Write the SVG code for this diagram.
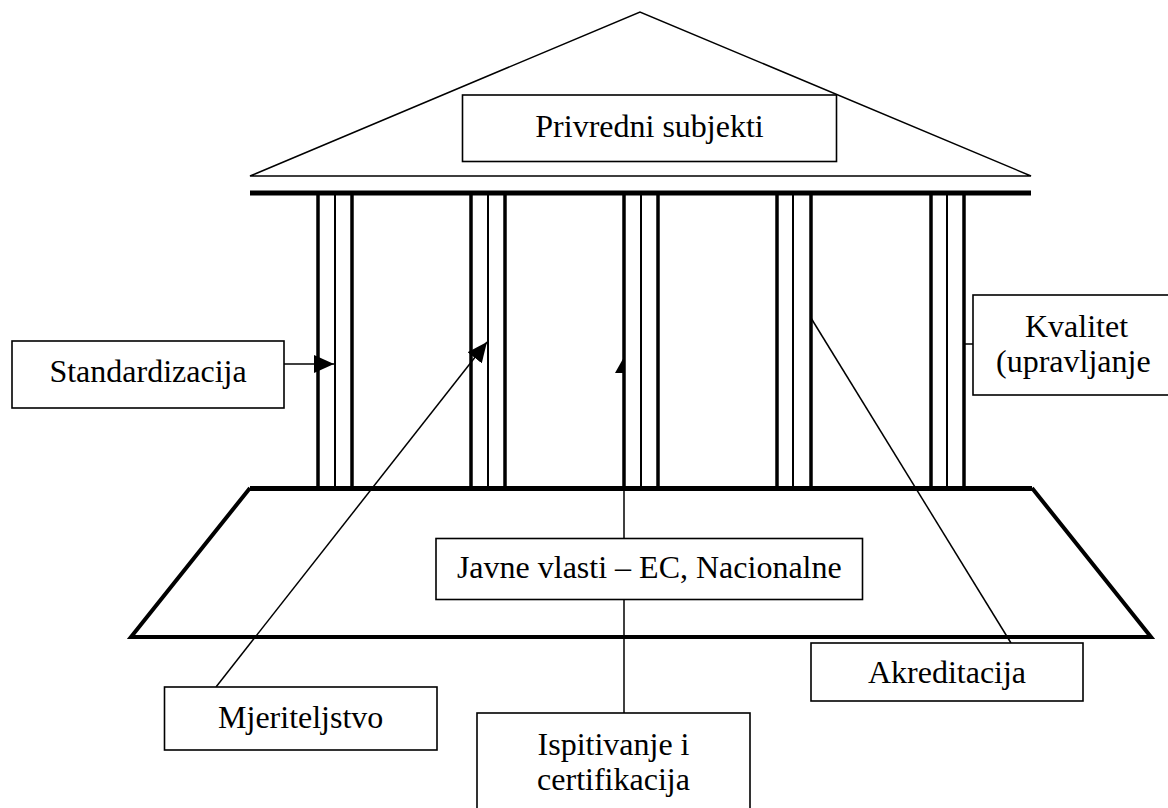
<svg xmlns="http://www.w3.org/2000/svg" width="1168" height="808" viewBox="0 0 1168 808">
<style>
.box{fill:#fff;stroke:#000;stroke-width:1.6}
.t{font-family:"Liberation Serif","Times New Roman",serif;font-size:32px;fill:#000}
.m{text-anchor:middle}
.thin{stroke:#000;stroke-width:1.5;fill:none}
.bar{stroke:#000;stroke-width:5;fill:none}
.pk{stroke:#000;stroke-width:3.5}
.pt{stroke:#000;stroke-width:2}
.base{stroke:#000;stroke-width:4;fill:none;stroke-linejoin:miter}
</style>
<defs>
<marker id="arr" markerUnits="userSpaceOnUse" markerWidth="20" markerHeight="18" refX="20" refY="9" orient="auto" viewBox="0 0 20 18">
<path d="M0,0 L20,9 L0,18 z" fill="#000"/>
</marker>
</defs>
<rect width="1168" height="808" fill="#fff"/>
<g id="building">
<polygon points="250,176 640,12 1031,176" class="thin"/>
<line x1="250" y1="193" x2="1031" y2="193" class="bar"/>
<g id="pillars">
<line x1="318" y1="193" x2="318" y2="488" class="pk"/><line x1="335" y1="193" x2="335" y2="488" class="pt"/><line x1="352" y1="193" x2="352" y2="488" class="pk"/>
<line x1="471" y1="193" x2="471" y2="488" class="pk"/><line x1="488" y1="193" x2="488" y2="488" class="pt"/><line x1="505" y1="193" x2="505" y2="488" class="pk"/>
<line x1="624" y1="193" x2="624" y2="488" class="pk"/><line x1="641" y1="193" x2="641" y2="488" class="pt"/><line x1="658" y1="193" x2="658" y2="488" class="pk"/>
<line x1="777" y1="193" x2="777" y2="488" class="pk"/><line x1="793" y1="193" x2="793" y2="488" class="pt"/><line x1="811" y1="193" x2="811" y2="488" class="pk"/>
<line x1="931" y1="193" x2="931" y2="488" class="pk"/><line x1="947" y1="193" x2="947" y2="488" class="pt"/><line x1="964" y1="193" x2="964" y2="488" class="pk"/>
</g>
<line x1="250" y1="488.5" x2="1032" y2="488.5" class="bar"/>
<polyline points="250,488 131,637 1151,637 1032,488" class="base"/>
</g>
<g id="connectors">
<line x1="284" y1="364" x2="334" y2="364" class="thin" marker-end="url(#arr)"/>
<line x1="216" y1="687" x2="487" y2="342" class="thin" marker-end="url(#arr)"/>
<line x1="624" y1="713" x2="624" y2="373" class="thin"/>
<polygon points="615,373 624,357 624,373" fill="#000"/>
<line x1="811" y1="318" x2="1011" y2="643" class="thin"/>
<line x1="964" y1="344" x2="973" y2="344" class="thin"/>
</g>
<g id="privredni-subjekti">
<rect x="462.5" y="95" width="374" height="66.5" class="box"/>
<text x="649.5" y="137" class="t m">Privredni subjekti</text>
</g>
<g id="standardizacija">
<rect x="12" y="341" width="272" height="67" class="box"/>
<text x="148" y="382" class="t m">Standardizacija</text>
</g>
<g id="kvalitet">
<rect x="973" y="295" width="210" height="100" class="box"/>
<text x="1025" y="337" class="t">Kvalitet</text>
<text x="996" y="372" class="t">(upravljanje</text>
</g>
<g id="javne-vlasti">
<rect x="436" y="538.5" width="426.5" height="61" class="box"/>
<text x="649.3" y="577.5" class="t m">Javne vlasti – EC, Nacionalne</text>
</g>
<g id="akreditacija">
<rect x="811" y="643" width="272" height="58" class="box"/>
<text x="947" y="683" class="t m">Akreditacija</text>
</g>
<g id="mjeriteljstvo">
<rect x="164.5" y="687" width="272.5" height="63" class="box"/>
<text x="300.7" y="728" class="t m">Mjeriteljstvo</text>
</g>
<g id="ispitivanje">
<rect x="477" y="713" width="273" height="110" class="box"/>
<text x="613.5" y="755" class="t m">Ispitivanje i</text>
<text x="613.5" y="790" class="t m">certifikacija</text>
</g>
</svg>
